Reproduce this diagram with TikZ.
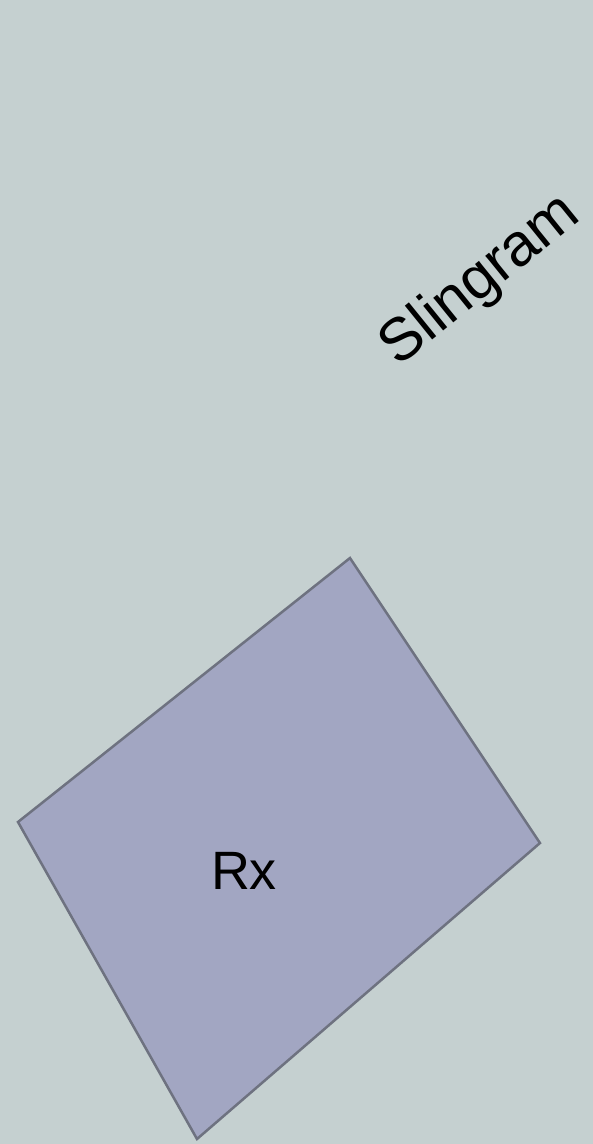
\documentclass[tikz,border=0pt]{standalone}
\usepackage{fontspec}
\setmainfont{Liberation Sans}
\definecolor{bgc}{HTML}{C5D0D0}
\definecolor{boxfill}{HTML}{A2A6C2}
\definecolor{boxline}{HTML}{6E7280}
\begin{document}
\begin{tikzpicture}[x=1pt,y=-1pt,
  lbl/.style={inner sep=0pt,text=black}]
\fill[bgc] (0,0) rectangle (593,1144);
\useasboundingbox (0,0) rectangle (593,1144);
\coordinate (t) at (350,558);
\coordinate (r) at (540,843);
\coordinate (b) at (197,1139);
\coordinate (l) at (18,822);
\draw[boxline,fill=boxfill,line width=2.5pt,line join=miter] (t) -- (r) -- (b) -- (l) -- cycle;
\node[lbl,font=\fontsize{54}{60}\selectfont] (rx) at (244,871) {Rx};
\node[lbl,font=\fontsize{60}{66}\selectfont,rotate=39] (sl) at (481,281) {Slingram};
\end{tikzpicture}
\end{document}
